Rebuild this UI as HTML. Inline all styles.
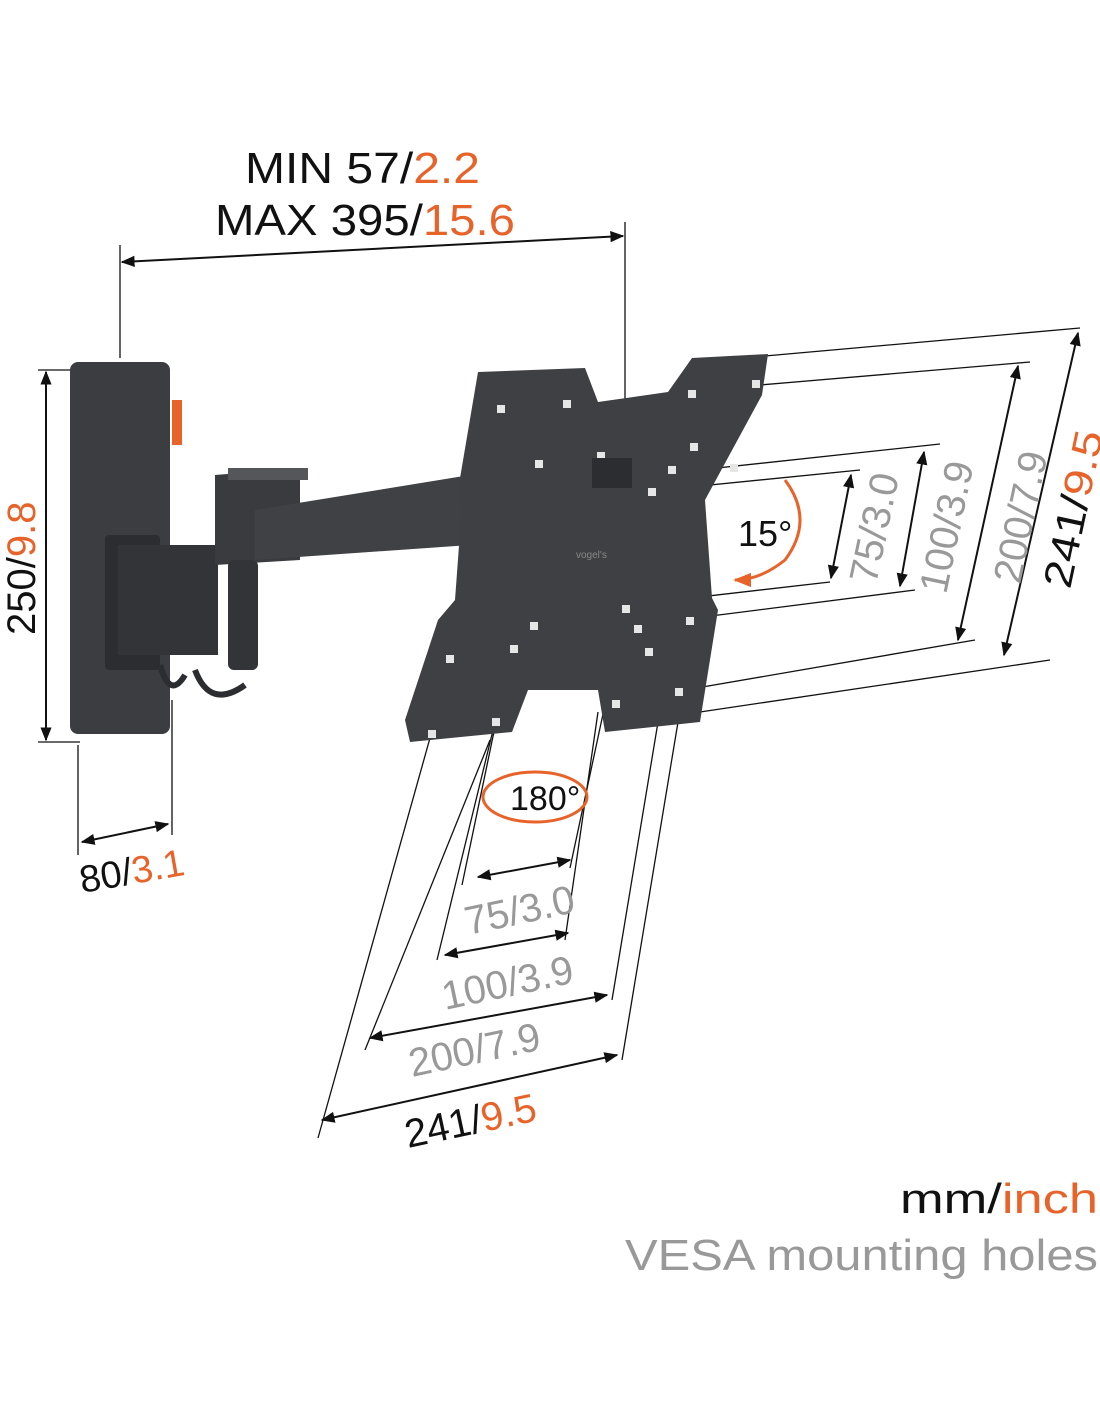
<!DOCTYPE html>
<html><head><meta charset="utf-8"><style>
html,body{margin:0;padding:0;background:#fff;}
svg{display:block;font-family:"Liberation Sans",sans-serif;}
</style></head><body>
<svg width="1100" height="1422" viewBox="0 0 1100 1422" xmlns="http://www.w3.org/2000/svg">
<defs>
<marker id="a" viewBox="0 0 10 10" refX="9" refY="5" markerWidth="7" markerHeight="7" orient="auto-start-reverse"><path d="M0,1 L10,5 L0,9 z" fill="#111"/></marker>
<marker id="o" viewBox="0 0 10 10" refX="9" refY="5" markerWidth="6" markerHeight="6" orient="auto-start-reverse"><path d="M0,1 L10,5 L0,9 z" fill="#e8632a"/></marker>
</defs>
<text x="245" y="183" font-size="44" fill="#111" textLength="235" lengthAdjust="spacingAndGlyphs">MIN 57/<tspan fill="#e8632a">2.2</tspan></text>
<text x="215" y="235" font-size="44" fill="#111" textLength="300" lengthAdjust="spacingAndGlyphs">MAX 395/<tspan fill="#e8632a">15.6</tspan></text>
<g stroke="#111" stroke-width="1.3" fill="none">
<line x1="120" y1="245" x2="120" y2="358"/>
<line x1="625" y1="222" x2="625" y2="400"/>
<line x1="122" y1="262" x2="623" y2="236" marker-start="url(#a)" marker-end="url(#a)" stroke-width="2"/>
<line x1="38" y1="370" x2="80" y2="370"/>
<line x1="38" y1="742" x2="80" y2="742"/>
<line x1="46" y1="372" x2="46" y2="740" marker-start="url(#a)" marker-end="url(#a)" stroke-width="2"/>
<line x1="78" y1="745" x2="78" y2="855"/>
<line x1="172" y1="700" x2="172" y2="835"/>
<line x1="82" y1="842" x2="168" y2="824" marker-start="url(#a)" marker-end="url(#a)" stroke-width="2"/>
<line x1="765" y1="356" x2="1080" y2="328"/>
<line x1="760" y1="385" x2="1030" y2="362"/>
<line x1="680" y1="472" x2="940" y2="444"/>
<line x1="660" y1="490" x2="860" y2="470"/>
<line x1="630" y1="605" x2="830" y2="582"/>
<line x1="640" y1="625" x2="915" y2="590"/>
<line x1="685" y1="690" x2="975" y2="640"/>
<line x1="700" y1="712" x2="1050" y2="660"/>
<line x1="851" y1="475" x2="831" y2="578" marker-start="url(#a)" marker-end="url(#a)" stroke-width="2"/>
<line x1="924" y1="452" x2="900" y2="586" marker-start="url(#a)" marker-end="url(#a)" stroke-width="2"/>
<line x1="1018" y1="366" x2="958" y2="640" marker-start="url(#a)" marker-end="url(#a)" stroke-width="2"/>
<line x1="1078" y1="333" x2="1004" y2="655" marker-start="url(#a)" marker-end="url(#a)" stroke-width="2"/>
<line x1="430" y1="738" x2="318" y2="1138"/>
<line x1="495" y1="722" x2="437" y2="960"/>
<line x1="510" y1="655" x2="462" y2="885"/>
<line x1="598" y1="712" x2="565" y2="940"/>
<line x1="612" y1="672" x2="570" y2="868"/>
<line x1="660" y1="710" x2="612" y2="1000"/>
<line x1="680" y1="710" x2="622" y2="1060"/>
<line x1="490" y1="740" x2="365" y2="1050"/>
<line x1="478" y1="877" x2="570" y2="860" marker-start="url(#a)" marker-end="url(#a)" stroke-width="2"/>
<line x1="445" y1="955" x2="568" y2="933" marker-start="url(#a)" marker-end="url(#a)" stroke-width="2"/>
<line x1="370" y1="1038" x2="607" y2="995" marker-start="url(#a)" marker-end="url(#a)" stroke-width="2"/>
<line x1="322" y1="1120" x2="617" y2="1055" marker-start="url(#a)" marker-end="url(#a)" stroke-width="2"/>
</g>
<text transform="translate(35,635) rotate(-90)" font-size="40" fill="#111">250/<tspan fill="#e8632a">9.8</tspan></text>
<text transform="translate(82,893) rotate(-10)" font-size="38" fill="#111">80/<tspan fill="#e8632a">3.1</tspan></text>
<rect x="70" y="362" width="100" height="372" rx="8" fill="#3c3d40"/>
<rect x="172" y="400" width="10" height="45" fill="#e8632a"/>
<rect x="105" y="535" width="55" height="135" rx="4" fill="#2c2d30"/>
<rect x="118" y="545" width="100" height="110" fill="#333437"/>
<path d="M160 665 q10 35 25 10 M195 670 q15 40 50 15" stroke="#2c2d30" stroke-width="6" fill="none"/>
<polygon points="215,475 300,468 300,560 215,565" fill="#3a3b3e"/>
<rect x="228" y="468" width="80" height="12" fill="#55565a"/>
<polygon points="255,510 470,475 470,545 255,560" fill="#404145"/>
<rect x="228" y="560" width="30" height="110" rx="6" fill="#333437"/>
<polygon points="478,372 585,368 598,402 668,392 692,358 768,354 762,395 705,500 712,598 718,610 700,722 605,732 598,690 528,690 512,732 410,742 405,720 438,620 455,600 462,505 458,490" fill="#3f4043"/>
<g fill="#e6e6e6">
<rect x="497" y="405" width="8" height="8"/><rect x="563" y="400" width="8" height="8"/><rect x="688" y="390" width="8" height="8"/><rect x="752" y="380" width="8" height="8"/>
<rect x="535" y="460" width="8" height="8"/><rect x="597" y="452" width="8" height="8"/><rect x="690" y="443" width="8" height="8"/><rect x="730" y="464" width="8" height="8"/><rect x="668" y="466" width="8" height="8"/><rect x="648" y="488" width="8" height="8"/>
<rect x="622" y="605" width="8" height="8"/><rect x="634" y="625" width="8" height="8"/><rect x="686" y="617" width="8" height="8"/><rect x="645" y="648" width="8" height="8"/><rect x="675" y="688" width="8" height="8"/><rect x="612" y="700" width="8" height="8"/>
<rect x="530" y="622" width="8" height="8"/><rect x="510" y="645" width="8" height="8"/><rect x="446" y="655" width="8" height="8"/><rect x="492" y="718" width="8" height="8"/><rect x="428" y="730" width="8" height="8"/>
</g>
<rect x="592" y="458" width="40" height="30" fill="#2c2d30"/>
<text x="576" y="558" font-size="10" fill="#888">vogel's</text>
<text x="738" y="546" font-size="36" fill="#111">15°</text>
<path d="M785 480 q30 40 0 80 q-25 20 -50 20" stroke="#e8632a" stroke-width="3" fill="none" marker-end="url(#o)"/>
<ellipse cx="535" cy="797" rx="52" ry="25" stroke="#e8632a" stroke-width="3" fill="none"/>
<text x="510" y="810" font-size="34" fill="#111">180°</text>
<g font-size="40">
<text transform="translate(876,585) rotate(-78)" fill="#999">75/3.0</text>
<text transform="translate(946,595) rotate(-78)" fill="#999">100/3.9</text>
<text transform="translate(1020,585) rotate(-78)" fill="#999">200/7.9</text>
<text transform="translate(1070,590) rotate(-78)" fill="#111" textLength="160" lengthAdjust="spacingAndGlyphs">241/<tspan fill="#e8632a">9.5</tspan></text>
<text transform="translate(468,935) rotate(-12)" fill="#999">75/3.0</text>
<text transform="translate(445,1010) rotate(-12)" fill="#999">100/3.9</text>
<text transform="translate(412,1077) rotate(-12)" fill="#999">200/7.9</text>
<text transform="translate(408,1148) rotate(-12)" fill="#111">241/<tspan fill="#e8632a">9.5</tspan></text>
</g>
<text x="900" y="1213" font-size="42" fill="#111" textLength="198" lengthAdjust="spacingAndGlyphs">mm/<tspan fill="#e8632a">inch</tspan></text>
<text x="625" y="1270" font-size="44" fill="#999" textLength="473" lengthAdjust="spacingAndGlyphs">VESA mounting holes</text>
</svg>
</body></html>
